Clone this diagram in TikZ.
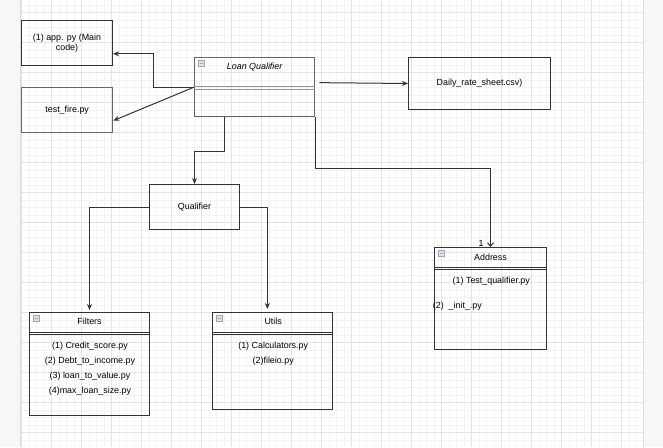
\documentclass[tikz,border=0pt]{standalone}
\usepackage{fontspec}
\setmainfont{Liberation Sans}
\usetikzlibrary{arrows.meta,calc}
\definecolor{edge}{HTML}{333333}
\definecolor{soft}{HTML}{666666}
\definecolor{gridminor}{HTML}{F3F3F3}
\definecolor{gridmajor}{HTML}{E4E4E4}
\definecolor{panel}{HTML}{F6F7F9}
\definecolor{panelline}{HTML}{DADCE0}
\definecolor{iconfill}{HTML}{DDE3EA}
\definecolor{iconline}{HTML}{9AA6B4}
\tikzset{
  box/.style={draw=edge, line width=1pt, rectangle, inner sep=0pt, anchor=north west,
    font=\fontsize{8.9}{10}\selectfont, align=center},
  mainbox/.style={box, draw=soft, line width=1.3pt},
  txt/.style={inner sep=0pt, anchor=base, font=\fontsize{8.9}{10}\selectfont},
  conn/.style={draw=edge, line width=1pt, -{Stealth[length=6pt,width=5pt]}},
  openconn/.style={draw=edge, line width=1pt, -{Straight Barb[length=3.5pt,width=6pt]}},
  divider/.style={draw=edge, line width=0.9pt},
  icon/.style={draw=iconline, fill=iconfill, line width=0.6pt}
}
% collapse icon in the top-left corner of a class box
\newcommand{\boxicon}[1]{%
  \draw[icon] ($(#1.north west)+(4,3)$) rectangle ++(6,6);
  \draw[iconline, line width=0.7pt] ($(#1.north west)+(5.5,6)$) -- ++(3,0);}
\begin{document}
\begin{tikzpicture}[x=1pt,y=-1pt]
\useasboundingbox (0,0) rectangle (663,447);

% canvas and side panels
\fill[white] (20,0) rectangle (643,447);
\fill[panel] (0,0) rectangle (20,447);
\fill[panel] (643,0) rectangle (663,447);
\foreach \i in {0,...,82} {
  \pgfmathsetmacro\xx{21.7+7.5*\i}
  \draw[gridminor, line width=0.6pt] (\xx,0) -- (\xx,447);
}
\foreach \i in {0,...,58} {
  \pgfmathsetmacro\yy{4.8+7.5*\i}
  \draw[gridminor, line width=0.6pt] (20,\yy) -- (643,\yy);
}
\foreach \i in {0,...,20} {
  \pgfmathsetmacro\xx{21.7+30*\i}
  \draw[gridmajor, line width=0.7pt] (\xx,0) -- (\xx,447);
}
\foreach \i in {0,...,14} {
  \pgfmathsetmacro\yy{12.3+30*\i}
  \draw[gridmajor, line width=0.7pt] (20,\yy) -- (643,\yy);
}
\draw[panelline, line width=0.8pt] (20,0) -- (20,447);
\draw[panelline, line width=0.8pt] (643,0) -- (643,447);

% plain boxes
\node[box, minimum width=91pt, minimum height=45pt] (app) at (21,20) {(1) app. py (Main\\code)};
\node[mainbox, draw=soft, minimum width=91pt, minimum height=45pt] (tf) at (21,87) {test\_fire.py};
\node[box, minimum width=142pt, minimum height=52pt] (daily) at (408,57) {Daily\_rate\_sheet.csv)};
\node[box, minimum width=90pt, minimum height=45pt] (qual) at (149,184) {Qualifier};

% Loan Qualifier class box
\node[mainbox, minimum width=120pt, minimum height=59pt] (lq) at (194,57) {};
\draw[soft!70, line width=1pt] ($(lq.north west)+(0,29.7)$) -- ($(lq.north east)+(0,29.7)$);
\draw[soft!70, line width=1pt] ($(lq.north west)+(0,32.3)$) -- ($(lq.north east)+(0,32.3)$);
\node[txt, font=\fontsize{8.9}{10}\selectfont\itshape] (lqt) at ($(lq.north)+(0,12.9)$) {Loan Qualifier};
\boxicon{lq}

% Address class box
\node[box, minimum width=112pt, minimum height=102pt] (addr) at (434,247) {};
\draw[divider] ($(addr.north west)+(0,20)$) -- ($(addr.north east)+(0,20)$);
\draw[divider] ($(addr.north west)+(0,22.3)$) -- ($(addr.north east)+(0,22.3)$);
\node[txt] (addrt) at ($(addr.north)+(0,13.9)$) {Address};
\node[txt] (addr1) at ($(addr.north)+(0.8,36.2)$) {(1) Test\_qualifier.py};
\node[txt, anchor=base west] (addr2) at ($(addr.north west)+(-1.3,61.2)$) {(2)\ \ \_init\_.py};
\boxicon{addr}

% Filters class box
\node[box, minimum width=120pt, minimum height=103pt] (filt) at (29,312) {};
\draw[divider] ($(filt.north west)+(0,20)$) -- ($(filt.north east)+(0,20)$);
\draw[divider] ($(filt.north west)+(0,22.3)$) -- ($(filt.north east)+(0,22.3)$);
\node[txt] (filtt) at ($(filt.north)+(0,12.9)$) {Filters};
\node[txt] (filt1) at ($(filt.north)+(0.5,36.2)$) {(1) Credit\_score.py};
\node[txt] (filt2) at ($(filt.north)+(0.5,51.9)$) {(2) Debt\_to\_income.py};
\node[txt] (filt3) at ($(filt.north)+(0.5,66.2)$) {(3) loan\_to\_value.py};
\node[txt] (filt4) at ($(filt.north)+(0.5,81.2)$) {(4)max\_loan\_size.py};
\boxicon{filt}

% Utils class box
\node[box, minimum width=120pt, minimum height=97pt] (utils) at (212,312) {};
\draw[divider] ($(utils.north west)+(0,20.3)$) -- ($(utils.north east)+(0,20.3)$);
\draw[divider] ($(utils.north west)+(0,22.3)$) -- ($(utils.north east)+(0,22.3)$);
\node[txt] (utilst) at ($(utils.north)+(0.7,12.9)$) {Utils};
\node[txt] (utils1) at ($(utils.north)+(0.7,36.2)$) {(1) Calculators.py};
\node[txt] (utils2) at ($(utils.north)+(0.7,51.9)$) {(2)fileio.py};
\boxicon{utils}

% connectors
\coordinate (appin) at ($(app.east)+(0,10.8)$);
\coordinate (bend) at ($(appin)+(40.7,0)$);
\draw[conn] (lq.west) -| (bend) -- (appin);
\coordinate (tfin) at ($(tf.east)+(0,10.5)$);
\draw[conn] (lq.west) -- (tfin);
\coordinate (lqout) at ($(lq.east)+(4,-4.5)$);
\draw[conn] (lqout) -- (daily.west);
\coordinate (lqb) at ($(lq.south)+(-30,0)$);
\draw[conn] (lqb) -- ++(0,34) -| (qual.north);
\draw[openconn] (lq.south east) -- ++(0,51.3) -| (addr.north);
\node[txt] (one) at ($(addr.north)+(-9.3,-0.8)$) {1};
\coordinate (filtin) at ($(filt.north)+(0,-2)$);
\draw[conn] (qual.west) -| (filtin);
\coordinate (utilsin) at ($(utils.north)+(-5.2,-3)$);
\draw[conn] (qual.east) -| (utilsin);
\end{tikzpicture}
\end{document}
